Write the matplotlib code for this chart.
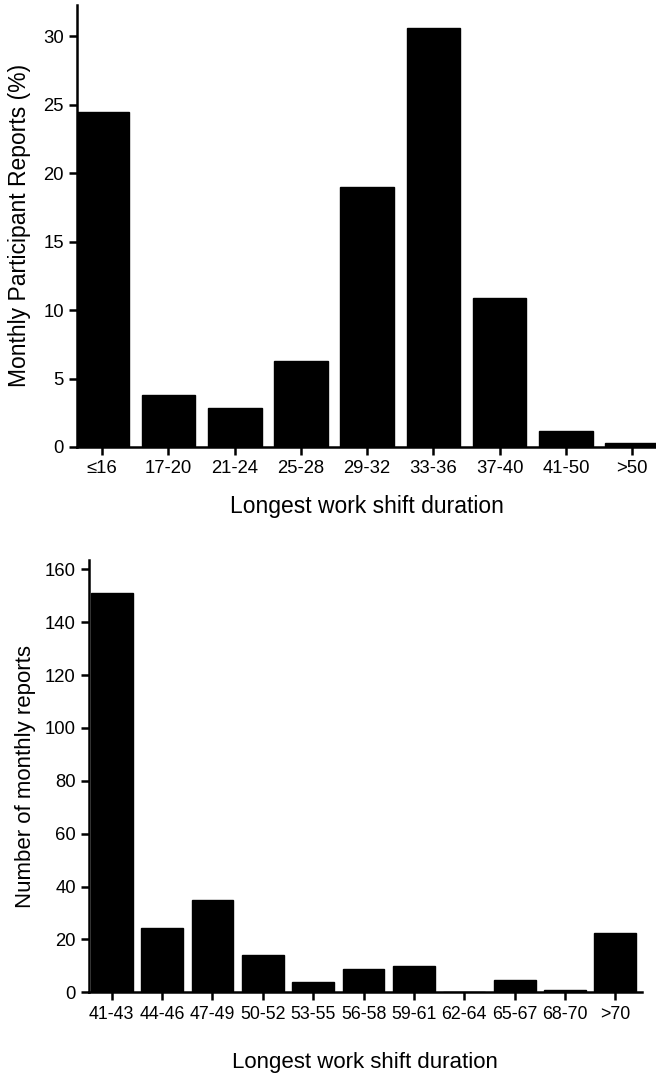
import numpy as np
import matplotlib.pyplot as plt

plt.rcParams['font.family'] = ['Liberation Sans', 'DejaVu Sans']

# top panel: percent of monthly participant reports
top_cats = ['≤16', '17-20', '21-24', '25-28', '29-32', '33-36', '37-40', '41-50', '>50']
top_vals = [24.5, 3.8, 2.85, 6.3, 19.0, 30.6, 10.9, 1.2, 0.3]

# bottom panel: number of monthly reports for shifts > 40 h
bot_cats = ['41-43', '44-46', '47-49', '50-52', '53-55', '56-58', '59-61',
            '62-64', '65-67', '68-70', '>70']
bot_vals = [151, 24.4, 35.0, 14.0, 4.0, 8.9, 10.0, 0.3, 4.5, 0.8, 22.3]

fig = plt.figure(figsize=(6.56, 10.81), dpi=100)

ax1 = fig.add_axes([0.1174, 0.5865, 0.8826, 0.409])
ax2 = fig.add_axes([0.1357, 0.082, 0.8423, 0.40])

def style(ax):
    for s in ['top', 'right']:
        ax.spines[s].set_visible(False)
    for s in ['left', 'bottom']:
        ax.spines[s].set_linewidth(1.8)
    ax.tick_params(axis='both', width=1.8, length=6, labelsize=13.3, colors='black')

x1 = np.arange(len(top_cats))
ax1.bar(x1, top_vals, width=0.81, color='black', edgecolor='black')
ax1.set_xticks(x1)
ax1.set_xticklabels(top_cats)
ax1.set_xlim(-0.38, 8.36)
ax1.set_ylim(0, 32.3)
ax1.set_yticks([0, 5, 10, 15, 20, 25, 30])
ax1.set_xlabel('Longest work shift duration', fontsize=16.5, labelpad=13)
ax1.set_ylabel('Monthly Participant Reports (%)', fontsize=16.5, labelpad=9)
style(ax1)

x2 = np.arange(len(bot_cats))
ax2.bar(x2, bot_vals, width=0.83, color='black', edgecolor='black')
ax2.set_xticks(x2)
ax2.set_xticklabels(bot_cats)
ax2.set_xlim(-0.45, 10.52)
ax2.set_ylim(0, 163.5)
ax2.set_yticks(np.arange(0, 161, 20))
ax2.set_xlabel('Longest work shift duration', fontsize=16, labelpad=21)
ax2.set_ylabel('Number of monthly reports', fontsize=16, labelpad=6)
style(ax2)
ax2.tick_params(axis='x', labelsize=12.8)

fig.savefig('out.png', dpi=100)
